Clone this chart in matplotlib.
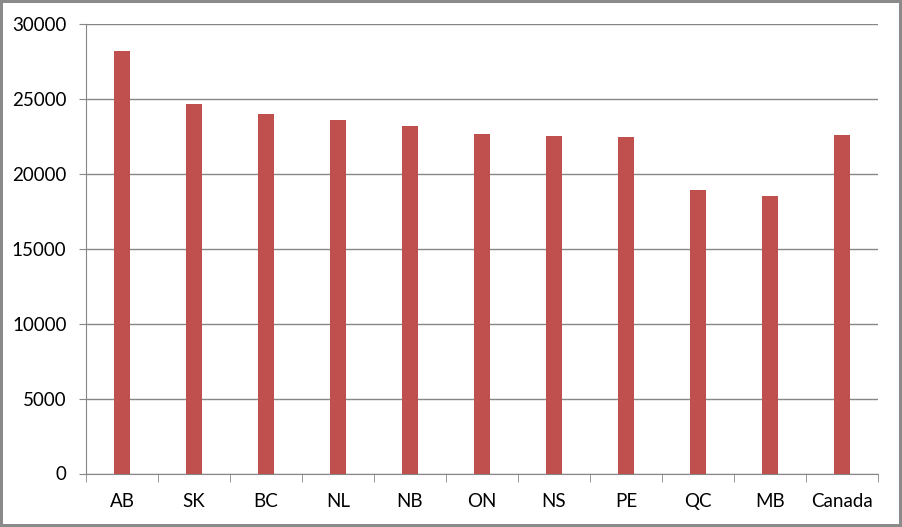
import matplotlib
matplotlib.use("Agg")
import matplotlib.pyplot as plt
import numpy as np

provinces = ["AB", "SK", "BC", "NL", "NB", "ON", "NS", "PE", "QC", "MB", "Canada"]
values = [28200, 24650, 24000, 23600, 23200, 22650, 22500, 22450, 18900, 18500, 22600]
y_ticks = [0, 5000, 10000, 15000, 20000, 25000, 30000]

plt.rcParams["font.family"] = ["Lato", "DejaVu Sans"]

fig = plt.figure(figsize=(9.02, 5.27), dpi=100)
fig.patch.set_facecolor("white")
fig.patch.set_edgecolor("#8a8a8a")
fig.patch.set_linewidth(3)

ax = fig.add_axes([86 / 902, 1 - 473.5 / 527, (878 - 86) / 902, (473.5 - 24) / 527])

x = np.arange(len(provinces))
ax.bar(x, values, width=0.22, color="#C0504D", zorder=3)

ax.set_xlim(-0.5, len(provinces) - 0.5)
ax.set_ylim(0, 30000)
ax.set_yticks(y_ticks)
ax.set_yticklabels([str(v) for v in y_ticks], fontsize=13.5, color="#000000")
ax.yaxis.grid(True, color="#868686", linewidth=1, zorder=0)

ax.set_xticks(x)
ax.set_xticklabels(provinces, fontsize=13.5, color="#000000")
ax.set_xticks(np.arange(-0.5, len(provinces)), minor=True)
ax.tick_params(axis="x", which="major", length=0, pad=14)
ax.tick_params(axis="x", which="minor", length=6, color="#868686", direction="out")
ax.tick_params(axis="y", length=5, color="#868686", pad=9)

for side in ["top", "right"]:
    ax.spines[side].set_visible(False)
ax.spines["left"].set_color("#868686")
ax.spines["bottom"].set_color("#868686")

fig.savefig("out.png", dpi=100, facecolor=fig.get_facecolor(), edgecolor=fig.get_edgecolor())
